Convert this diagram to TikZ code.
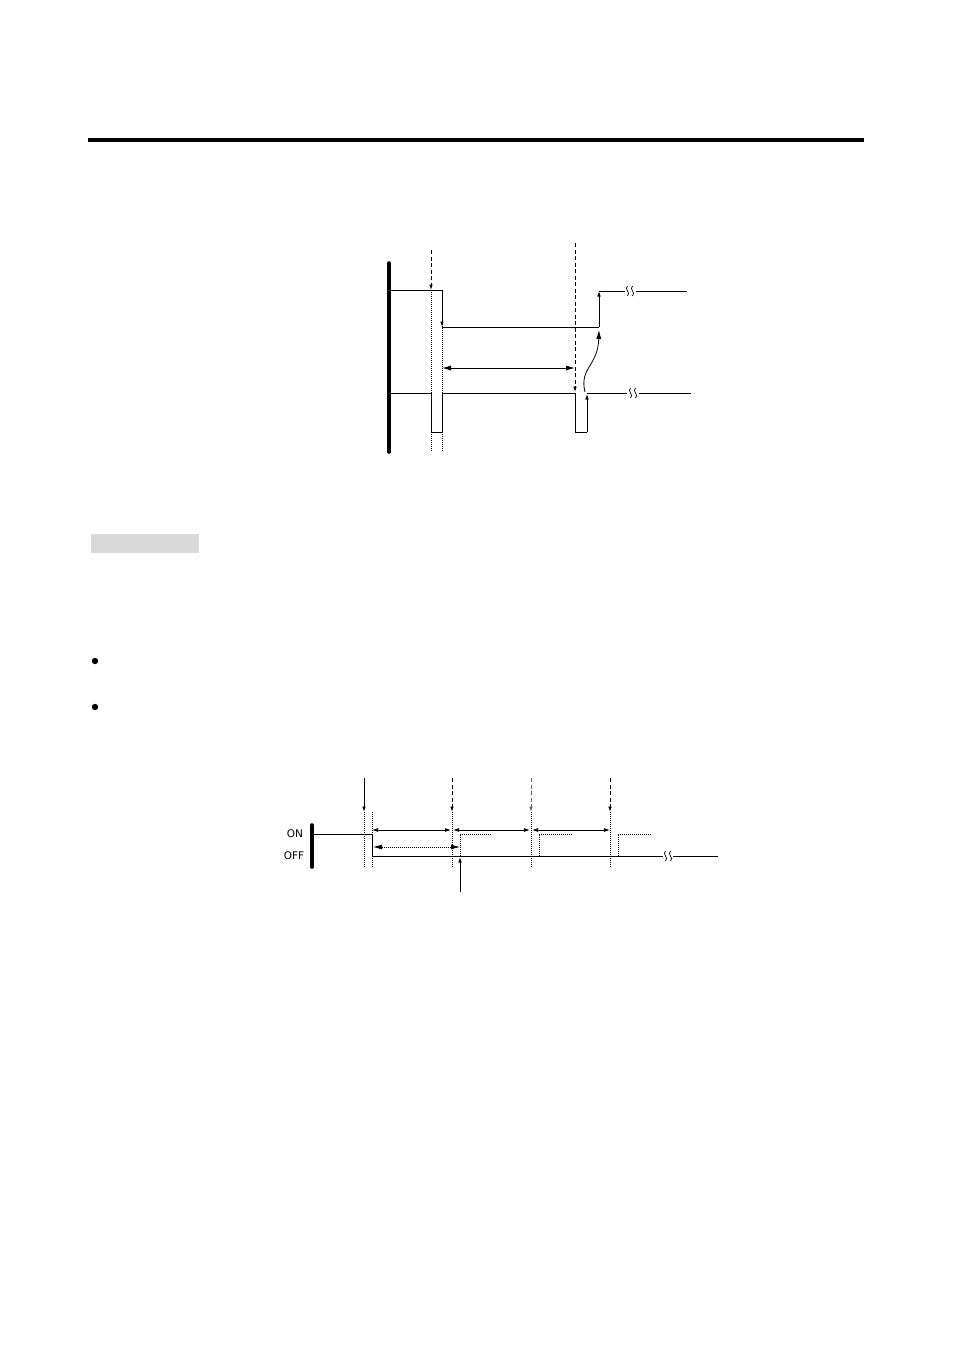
\documentclass[tikz,border=0pt]{standalone}
\usepackage{fontspec}
\setsansfont{DejaVu Sans}
\usetikzlibrary{positioning,arrows,arrows.meta,calc}
\tikzset{
    x=1pt,
    y=-1pt,
    >={Latex[length=5.5pt,width=3.6pt]},
    sig/.style = {
        draw,
        line width=0.9pt
    },
    bar/.style = {
        draw,
        line width=3.6pt,
        line cap=round
    },
    cue/.style = {
        draw,
        line width=0.8pt,
        dash pattern=on 4pt off 2.5pt
    },
    guide/.style = {
        draw,
        line width=0.7pt,
        dash pattern=on 1pt off 1pt
    },
    dim/.style = {
        draw,
        line width=0.9pt,
        {Latex[length=9pt,width=5pt]}-{Latex[length=9pt,width=5pt]}
    },
    small/.style = {
        draw,
        line width=0.9pt,
        {Latex[length=6pt,width=4pt]}-{Latex[length=6pt,width=4pt]}
    },
    lbl/.style = {
        font=\sffamily\fontsize{10.5}{12}\selectfont,
        inner sep=0pt
    },
    brk/.pic = {
        \draw[line width=0.7pt] (-2.5,-5) .. controls (-6.5,-2) and (1.5,2) .. (-2.5,5);
        \draw[line width=0.7pt] (2.5,-5) .. controls (-1.5,-2) and (6.5,2) .. (2.5,5);
    },
}
\begin{document}
\begin{tikzpicture}
                \useasboundingbox (0,0) rectangle (954,1350);

                % page rule, shaded heading, bullets
                \path[draw, line width=3.5pt] (88,140) -- (864,140);
                \path[fill=black!15] (91,534) rectangle (199,553);
                \path[fill=black] (95,661) circle (3.2);
                \path[fill=black] (95,707) circle (3.2);

                % upper timing chart
                \coordinate (bartop) at (389,263);
                \coordinate (barbot) at (389,452);
                \coordinate (ta) at (431,250);
                \coordinate (tah) at (431,290);
                \coordinate (tab) at (431,452);
                \coordinate (tbh) at (442,290);
                \coordinate (tbb) at (442,452);
                \coordinate (tc) at (575,243);
                \coordinate (tch) at (575,393);
                \coordinate (hiA) at (389,290);
                \coordinate (hiB) at (442,327);
                \coordinate (hiC) at (599,327);
                \coordinate (hiD) at (599,291);
                \coordinate (loA) at (389,393);
                \coordinate (loB) at (431,432);
                \coordinate (loC) at (442,393);
                \coordinate (loD) at (575,432);
                \coordinate (loE) at (587,432);
                \coordinate (loF) at (587,393);
                \coordinate (spanL) at (442,368);
                \coordinate (spanR) at (575,368);

                \path[bar] (bartop) -- (barbot);
                \path[cue, ->] (ta) -- (tah);
                \path[guide] (tah) -- (tab);
                \path[guide] (tbh) -- (tbb);
                \path[cue, ->] (tc) -- ($(tch)+(0,-1)$);
                \path[sig, ->] (hiA) -| (hiB);
                \path[sig] (hiB) -- (hiC);
                \path[sig, ->] (hiC) -- (hiD);
                \path[sig] (hiD) -- (625,291);
                \pic at (630,291) {brk};
                \path[sig] (636,291) -- (687,291);
                \path[sig] (loA) -| (loB) -| (loC) -| (loD) -| (loE);
                \path[sig, ->] (loE) -- ($(loF)+(0,1)$);
                \path[sig] (loF) -- (627,393);
                \pic at (633,393) {brk};
                \path[sig] (639,393) -- (691,393);
                \path[dim] (spanL) -- (spanR);
                \path[draw, line width=0.8pt, -{Latex[length=9pt,width=5pt]}]
                    (585,392) .. controls (579,368) and (598,366) .. (599,330);

                % lower timing chart
                \node[lbl] (on) at (295,834) {ON};
                \node[lbl] (off) at (294,856) {OFF};
                \coordinate (bar2top) at (312,825);
                \coordinate (bar2bot) at (312,867);
                \coordinate (onA) at (312,834);
                \coordinate (onB) at (372,856);
                \coordinate (m1) at (364,778);
                \coordinate (m1h) at (364,812);
                \coordinate (m1b) at (364,868);
                \coordinate (g1) at (372,812);
                \coordinate (g1b) at (372,868);
                \coordinate (m2) at (452,778);
                \coordinate (m2h) at (452,812);
                \coordinate (m2b) at (452,868);
                \coordinate (m3) at (531,778);
                \coordinate (m3h) at (531,812);
                \coordinate (m3b) at (531,868);
                \coordinate (m4) at (610,778);
                \coordinate (m4h) at (610,812);
                \coordinate (m4b) at (610,868);
                \coordinate (trig) at (460,892);
                \coordinate (trigh) at (460,857);

                \path[bar] (bar2top) -- (bar2bot);
                \path[sig] (onA) -| (onB) -- (663,856);
                \pic at (668,856) {brk};
                \path[sig] (673,856) -- (718,856);
                \path[sig, ->] (m1) -- (m1h);
                \path[guide] (m1h) -- (m1b);
                \path[guide] (g1) -- (g1b);
                \path[cue, ->] (m2) -- (m2h);
                \path[guide] (m2h) -- (m2b);
                \path[cue, ->, black!60] (m3) -- (m3h);
                \path[guide] (m3h) -- (m3b);
                \path[cue, ->] (m4) -- (m4h);
                \path[guide] (m4h) -- (m4b);
                \path[small] (372,830) -- (451,830);
                \path[small] (453,830) -- (530,830);
                \path[small] (532,830) -- (610,830);
                \path[draw, line width=0.8pt, dash pattern=on 1pt off 1pt,
                    {Latex[length=9pt,width=5pt]}-{Latex[length=9pt,width=5pt]}] (373,847) -- (460,847);
                \path[guide] (460,856) |- (492,834);
                \path[guide] (539,856) |- (572,834);
                \path[guide] (618,856) |- (651,834);
                \path[sig, ->] (trig) -- (trigh);
            \end{tikzpicture}
\end{document}
